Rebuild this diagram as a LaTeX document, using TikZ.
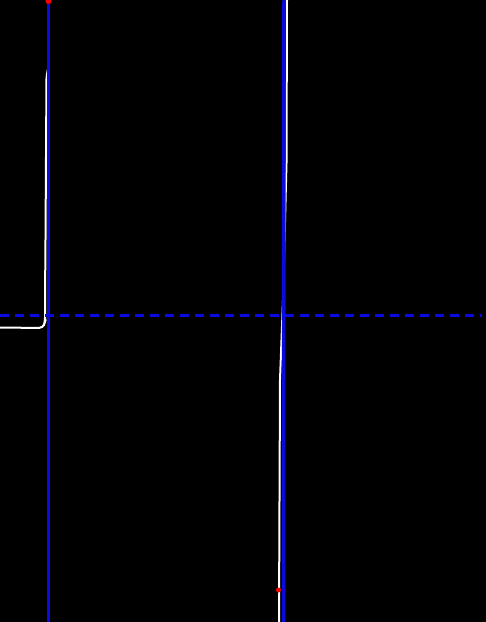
\documentclass[tikz,border=0pt]{standalone}
\begin{document}
\begin{tikzpicture}[x=1pt,y=-1pt]
\fill[black] (0,0) rectangle (486,622);
\useasboundingbox (0,0) rectangle (486,622);
% trajectories
\draw[white,line width=2pt,rounded corners=4pt] (0,327.5) -- (43,328) -- (45,322) -- (45,300) -- (45.5,240) -- (46.5,75) -- (48.5,68) -- (48.5,1);
\draw[white,line width=2pt] (287,0) -- (286.5,163) -- (283,300) -- (280,380) -- (279,622);
% reference lines
\definecolor{refblue}{RGB}{10,10,225}
\draw[refblue,line width=3.5pt] (48.5,0) -- (48.5,622);
\draw[refblue,line width=3.5pt] (284,0) -- (283.5,622);
\draw[refblue,line width=3pt,dash pattern=on 9pt off 6pt] (0,315) -- (482,315);
% end points
\fill[red] (48.5,1) circle (3pt);
\fill[red] (278.5,590) circle (2.5pt);
\end{tikzpicture}
\end{document}
